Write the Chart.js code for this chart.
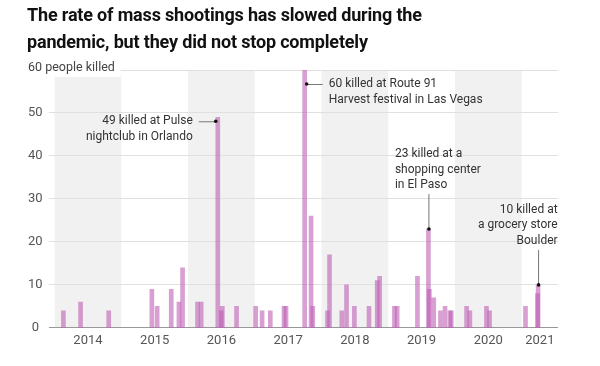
<!DOCTYPE html>
<html>
<head>
<meta charset="utf-8">
<script src="https://cdn.jsdelivr.net/npm/chart.js@4.4.1/dist/chart.umd.min.js"></script>
<style>
  html, body { margin: 0; padding: 0; background: #fff; }
  #wrap { position: relative; width: 600px; height: 366px; }
  #chart { position: absolute; left: 0; top: 0; }
  h1 {
    position: absolute; left: 27px; top: 2px; margin: 0;
    font: 700 18px/26.7px Roboto, sans-serif; letter-spacing: -0.17px; color: #111;
  }
</style>
</head>
<body>
<div id="wrap">
  <canvas id="chart" width="600" height="366"></canvas>
  <h1>The rate of mass shootings has slowed during the<br>pandemic, but they did not stop completely</h1>
</div>
<script>
// one bar per shooting, date
const shootingDates = [
  "2014-02-18", "2014-05-23", "2014-10-24",
  "2015-06-17", "2015-07-16", "2015-10-01", "2015-11-12", "2015-12-02",
  "2016-02-22", "2016-03-13", "2016-06-12", "2016-07-01", "2016-07-07", "2016-09-23",
  "2017-01-06", "2017-02-10", "2017-03-27", "2017-06-10", "2017-06-21", "2017-10-01", "2017-11-05", "2017-11-14",
  "2018-02-03", "2018-02-14", "2018-04-22", "2018-05-18", "2018-06-30", "2018-09-18", "2018-11-02", "2018-11-15",
  "2019-02-04", "2019-02-19", "2019-06-10", "2019-08-09", "2019-08-14", "2019-09-07", "2019-10-14", "2019-11-08", "2019-12-05", "2019-12-12",
  "2020-03-05", "2020-03-23", "2020-06-22", "2020-07-09",
  "2021-01-22", "2021-03-29", "2021-04-01"
];
const peopleKilled = [
  4, 6, 4,
  9, 5, 9, 6, 14,
  6, 6, 49, 4, 5, 5,
  5, 4, 4, 5, 5, 60, 26, 5,
  4, 17, 4, 10, 5, 5, 11, 12,
  5, 5, 12, 23, 9, 7, 4, 5, 4, 4,
  5, 4, 5, 4,
  5, 8, 10
];
const shadedYears = [2014, 2016, 2018, 2020];
const tickYears = [2014, 2015, 2016, 2017, 2018, 2019, 2020, 2021];
const xMin = 2013.91;
const xMax = 2021.545;
const yMax = 60;
const yTopLabel = "60 people killed";

const noteDates = ["2016-06-12", "2017-10-01", "2019-08-09", "2021-04-01"];
const noteLines = [
  ["49 killed at Pulse", "nightclub in Orlando"],
  ["60 killed at Route 91", "Harvest festival in Las Vegas"],
  ["23 killed at a", "shopping center", "in El Paso"],
  ["10 killed at", "a grocery store", "Boulder"]
];

function toYear(s) {
  const [y, m, d] = s.split("-").map(Number);
  const start = Date.UTC(y, 0, 1);
  const end = Date.UTC(y + 1, 0, 1);
  return y + (Date.UTC(y, m - 1, d) - start) / (end - start);
}

const points = shootingDates.map((d, i) => ({ x: toYear(d), y: peopleKilled[i] }));

const FONT = "Roboto, sans-serif";

// grey year bands, the 60 line and a white box for the unit label
const backdrop = {
  id: "backdrop",
  beforeDraw(chart) {
    const { ctx, chartArea, scales: { x, y } } = chart;
    const top = y.getPixelForValue(yMax);
    const bottom = y.getPixelForValue(0);
    ctx.save();
    ctx.fillStyle = "#f1f1f1";
    shadedYears.forEach((yr) => {
      const x0 = Math.max(x.getPixelForValue(yr), chartArea.left);
      const x1 = Math.min(x.getPixelForValue(yr + 1), chartArea.right);
      ctx.fillRect(x0, top, x1 - x0, bottom - top);
    });
    ctx.font = "12.5px " + FONT;
    const w = ctx.measureText(yTopLabel).width;
    ctx.fillStyle = "#fff";
    ctx.fillRect(0, 0, 28 + w + 6, top + 7);
    ctx.strokeStyle = "#e0e0e0";
    ctx.lineWidth = 1;
    ctx.beginPath();
    ctx.moveTo(28 + w + 6, Math.round(top) + 0.5);
    ctx.lineTo(chartArea.right, Math.round(top) + 0.5);
    ctx.stroke();
    ctx.fillStyle = "#444";
    ctx.textBaseline = "middle";
    ctx.fillText(yTopLabel, 28, top - 2);
    ctx.restore();
  }
};

const notes = {
  id: "notes",
  afterDatasetsDraw(chart) {
    const { ctx, scales: { x, y } } = chart;
    ctx.save();
    ctx.font = "12px " + FONT;
    ctx.fillStyle = "#333";
    ctx.strokeStyle = "#777";
    ctx.lineWidth = 1;
    ctx.textBaseline = "middle";
    const lh = 15.5;
    const dot = (px, py) => {
      ctx.beginPath();
      ctx.arc(px, py, 1.8, 0, Math.PI * 2);
      ctx.fillStyle = "#111";
      ctx.fill();
      ctx.fillStyle = "#333";
    };
    const line = (x0, y0, x1, y1) => {
      ctx.beginPath();
      ctx.moveTo(x0, y0);
      ctx.lineTo(x1, y1);
      ctx.stroke();
    };
    noteDates.forEach((d, i) => {
      const idx = shootingDates.indexOf(d);
      const bx = x.getPixelForValue(points[idx].x);
      const by = y.getPixelForValue(points[idx].y);
      const lines = noteLines[i];
      if (i === 0) {
        const px = bx - 2, py = by + 4;
        line(px - 17, py + 0.5, px, py + 0.5);
        dot(px, py);
        ctx.textAlign = "right";
        lines.forEach((t, k) => ctx.fillText(t, px - 23, py + k * lh));
      } else if (i === 1) {
        const px = bx + 2, py = by + 14;
        line(px, py + 0.5, px + 16, py + 0.5);
        dot(px, py);
        ctx.textAlign = "left";
        lines.forEach((t, k) => ctx.fillText(t, px + 22, py + k * lh));
      } else {
        const px = bx + 0.5, py = by;
        const lastY = py - 44;
        line(px, lastY + 9, px, py);
        dot(px, py);
        ctx.textAlign = i === 2 ? "left" : "right";
        const tx = i === 2 ? px - 34 : px + 19;
        lines.forEach((t, k) => ctx.fillText(t, tx, lastY - (lines.length - 1 - k) * lh));
      }
    });
    ctx.restore();
  }
};

new Chart(document.getElementById("chart"), {
  type: "bar",
  data: {
    datasets: [
      {
        data: points,
        backgroundColor: "rgba(190, 95, 180, 0.6)",
        borderWidth: 0,
        barThickness: 4,
      },
    ],
  },
  options: {
    responsive: false,
    animation: false,
    events: [],
    layout: { padding: { left: 22, right: 42, top: 70, bottom: 11.5 } },
    plugins: { legend: { display: false }, tooltip: { enabled: false } },
    scales: {
      x: {
        type: "linear",
        min: xMin,
        max: xMax,
        offset: false,
        grid: { display: false, drawTicks: false, offset: false },
        border: { display: false },
        afterBuildTicks(scale) {
          scale.ticks = tickYears.map((yr) => ({
            value: (Math.max(yr, xMin) + Math.min(yr + 1, xMax)) / 2,
          }));
        },
        ticks: {
          autoSkip: false,
          maxRotation: 0,
          padding: 5.5,
          color: "#555",
          font: { family: FONT, size: 13 },
          callback: (v) => String(Math.floor(v)),
        },
      },
      y: {
        min: 0,
        max: yMax,
        border: { display: false },
        grid: {
          drawTicks: false,
          color: (c) => (c.tick.value === yMax ? "transparent" : c.tick.value === 0 ? "#999" : "#e0e0e0"),
        },
        ticks: {
          stepSize: 10,
          padding: 6,
          crossAlign: "center",
          color: "#555",
          font: { family: FONT, size: 13 },
          callback: (v) => (v === yMax ? "" : v),
        },
      },
    },
  },
  plugins: [backdrop, notes],
});
</script>
</body>
</html>
